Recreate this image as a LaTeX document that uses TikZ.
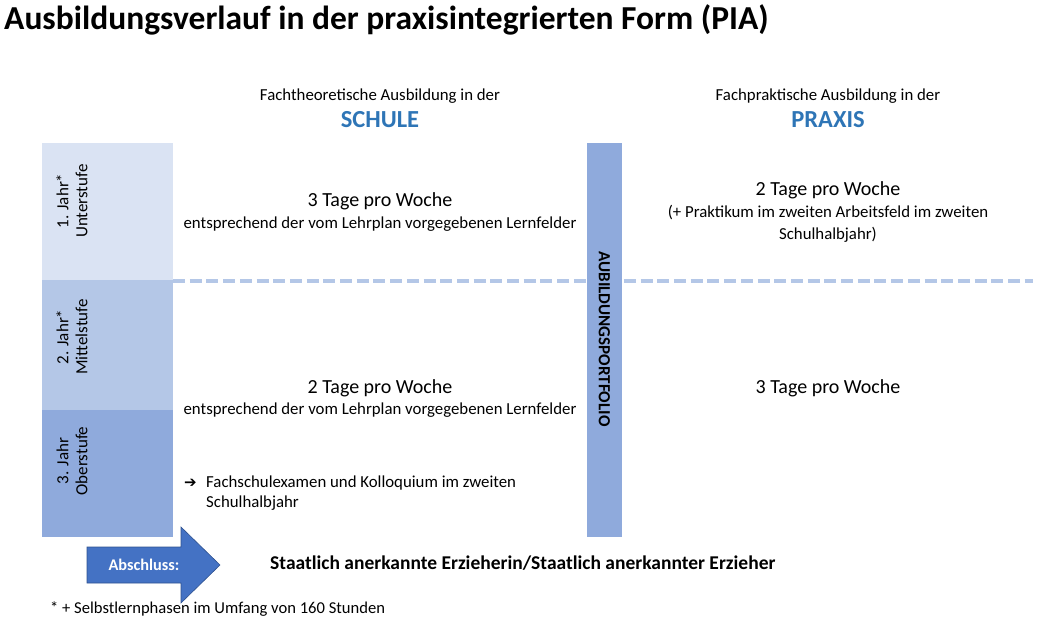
\documentclass[tikz,border=0pt]{standalone}
\usepackage{fontspec}
\setmainfont{Carlito}
\newfontfamily\zeichen{DejaVu Sans}
\usetikzlibrary{calc,arrows.meta,positioning}
\definecolor{hell}{HTML}{DAE3F3}
\definecolor{mittel}{HTML}{B4C7E7}
\definecolor{dunkel}{HTML}{8FAADC}
\definecolor{blau}{HTML}{2E75B6}
\definecolor{pfeil}{HTML}{4472C4}
\definecolor{rand}{HTML}{2F528F}

\tikzset{
  txt/.style={font=\fontsize{16.8}{22}\selectfont,align=center,inner sep=0pt},
  gross/.style={font=\fontsize{20}{22}\selectfont,inner sep=0pt},
  kopf/.style={font=\fontsize{24.5}{26}\selectfont\bfseries,text=blau,inner sep=0pt},
  stufe/.style={rotate=90,align=center,font=\fontsize{17}{19}\selectfont,inner sep=0pt},
}

\begin{document}
\begin{tikzpicture}[x=1pt,y=-1pt,>=Latex]
  \useasboundingbox (0,0) rectangle (1037,631);
  % Titel
  \node[anchor=west,inner sep=0pt,font=\fontsize{33.5}{36}\selectfont\bfseries] (titel) at (4,20)
    {Ausbildungsverlauf in der praxisintegrierten Form (PIA)};
  % Spaltenkoepfe
  \node[txt] (schule0) at (380,96) {Fachtheoretische Ausbildung in der};
  \node[kopf] (schule) at (380,120) {SCHULE};
  \node[txt] (praxis0) at (828,96) {Fachpraktische Ausbildung in der};
  \node[kopf] (praxis) at (828,120) {PRAXIS};
  % Stufen links
  \fill[hell]   (42,143) rectangle (173,280);
  \fill[mittel] (42,280) rectangle (173,410);
  \fill[dunkel] (42,410) rectangle (173,537);
  \node[stufe] (jahr1) at (72,201) {1. Jahr*\\Unterstufe};
  \node[stufe] (jahr2) at (72,337) {2. Jahr*\\Mittelstufe};
  \node[stufe] (jahr3) at (72,461) {3. Jahr\\Oberstufe};
  % Trennlinie
  \draw[mittel,line width=4pt,dash pattern=on 12pt off 4.7pt] (173,281) -- (1033,281);
  % Portfolio
  \fill[dunkel] (587,143) rectangle (622,537);
  \node[rotate=-90,inner sep=0pt,font=\fontsize{17}{19}\selectfont\bfseries] (portfolio) at (604.5,339)
    {AUBILDUNGSPORTFOLIO};
  % Inhalte
  \node[gross] (s1) at (380,201) {3 Tage pro Woche};
  \node[txt] (s1b) at (380,224) {entsprechend der vom Lehrplan vorgegebenen Lernfelder};
  \node[gross] (p1) at (828,190) {2 Tage pro Woche};
  \node[txt] (p1b) at (828,224) {(+ Praktikum im zweiten Arbeitsfeld im zweiten\\Schulhalbjahr)};
  \node[gross] (s2) at (380,388) {2 Tage pro Woche};
  \node[txt] (s2b) at (380,410) {entsprechend der vom Lehrplan vorgegebenen Lernfelder};
  \node[gross] (p2) at (828,388) {3 Tage pro Woche};
  \node[txt,anchor=north west,align=left,font=\fontsize{16.8}{20}\selectfont] (examen) at (206,476)
    {Fachschulexamen und Kolloquium im zweiten\\Schulhalbjahr};
  \node[inner sep=0pt,font=\zeichen\bfseries\fontsize{15}{15}\selectfont,anchor=east] (pfeilchen) at (197,483.5)
    {➔};
  % Abschluss
  \coordinate (a1) at (87,547);
  \coordinate (a2) at (181,547);
  \coordinate (a3) at (181,527);
  \coordinate (spitze) at (220,565);
  \coordinate (a5) at (181,603);
  \coordinate (a6) at (181,583);
  \coordinate (a7) at (87,583);
  \filldraw[fill=pfeil,draw=rand,line width=0.6pt] (a1) -- (a2) -- (a3) -- (spitze) -- (a5) -- (a6) -- (a7) -- cycle;
  \node[text=white,inner sep=0pt,font=\fontsize{16.3}{18}\selectfont\bfseries] (abschluss) at (144,565) {Abschluss:};
  \node[anchor=west,inner sep=0pt,font=\fontsize{19.5}{22}\selectfont\bfseries] (erzieher) at (270,563)
    {Staatlich anerkannte Erzieherin/Staatlich anerkannter Erzieher};
  % Fussnote
  \node[anchor=west,inner sep=0pt,font=\fontsize{16.6}{18}\selectfont] (fussnote) at (50,609)
    {* + Selbstlernphasen im Umfang von 160 Stunden};
\end{tikzpicture}
\end{document}
